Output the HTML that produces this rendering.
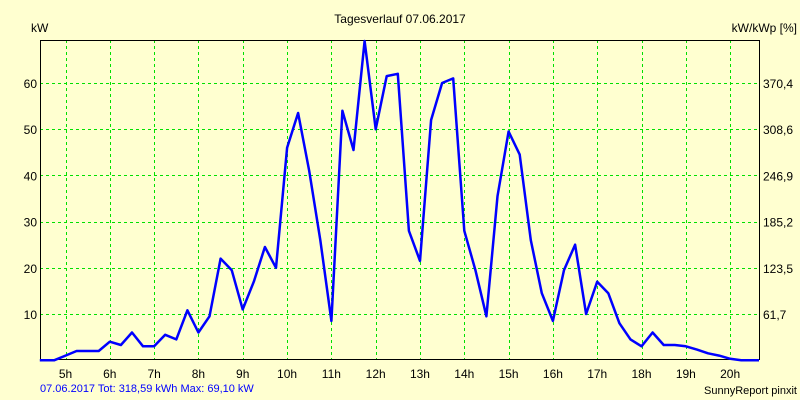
<!DOCTYPE html>
<html><head><meta charset="utf-8"><style>
body{margin:0;background:#ffffd0;}
svg{display:block;font-family:"Liberation Sans",sans-serif;font-size:12px;}
</style></head><body>
<svg id="chart" width="800" height="400" viewBox="0 0 800 400">
<rect x="0" y="0" width="800" height="400" fill="#ffffd0"/>
<text x="400" y="23" text-anchor="middle" fill="#000">Tagesverlauf 07.06.2017</text>
<text x="31" y="32" fill="#000">kW</text>
<text x="797" y="32" text-anchor="end" fill="#000">kW/kWp [%]</text>
<g id="grid"></g>
<g id="ticks"></g>
<rect x="40.5" y="40.5" width="719" height="319" fill="none" stroke="#000" stroke-width="1"/>
<polyline id="line" fill="none" stroke="#0000ff" stroke-width="2.5" stroke-linejoin="round"/>
<text x="40" y="392" fill="#0000ff" font-size="11">07.06.2017 Tot: 318,59 kWh Max: 69,10 kW</text>
<text x="797" y="394" text-anchor="end" fill="#000" font-size="11">SunnyReport pinxit</text>
</svg>
<script>
const hours = [5,6,7,8,9,10,11,12,13,14,15,16,17,18,19,20];
const yTicks = [10,20,30,40,50,60];
const rightLabels = ["61,7","123,5","185,2","246,9","308,6","370,4"];
const times = [4.42,4.75,5,5.25,5.75,6,6.25,6.5,6.75,7,7.25,7.5,7.75,8,8.25,8.5,8.75,9,9.25,9.5,9.75,10,10.25,10.5,10.75,11,11.25,11.5,11.75,12,12.25,12.5,12.75,13,13.25,13.5,13.75,14,14.25,14.5,14.75,15,15.25,15.5,15.75,16,16.25,16.5,16.75,17,17.25,17.5,17.75,18,18.25,18.5,18.75,19,19.25,19.5,19.75,20,20.25,20.65];
const power = [0,0,1,2,2,4,3.3,6,3,3,5.5,4.5,10.8,6,9.5,22,19.5,11,17,24.5,20,46,53.5,41,26,8.5,54,45.5,69.1,50,61.5,62,28,21.5,52,60,61,28,19.5,9.5,35.5,49.5,44.5,26,14.5,8.5,19.5,25,10,17,14.5,8,4.5,3,6,3.3,3.3,3,2.3,1.5,1,0.3,0,0];
const X = t => 65.5 + (t - 5) * 44.31;
const Y = v => 360.2 - v * 4.62;
const NS = "http://www.w3.org/2000/svg";
const grid = document.getElementById('grid'), ticks = document.getElementById('ticks');
hours.forEach(h => {
  const l = document.createElementNS(NS, 'line');
  
  
  const x = Math.round(X(h)) + 0.5;
  l.setAttribute('x1', x); l.setAttribute('x2', x); l.setAttribute('y1', 40); l.setAttribute('y2', 360);
  l.setAttribute('stroke', '#00e000'); l.setAttribute('stroke-dasharray', '3,3');
  grid.appendChild(l);
  const t = document.createElementNS(NS, 'text');
  
  
  t.setAttribute('x', X(h)); t.setAttribute('y', 378); t.setAttribute('text-anchor', 'middle');
  t.textContent = h + 'h';
  ticks.appendChild(t);
});
yTicks.forEach((v, i) => {
  const l = document.createElementNS(NS, 'line');
  
  
  const y = Math.round(Y(v)) + 0.5;
  l.setAttribute('x1', 40); l.setAttribute('x2', 760); l.setAttribute('y1', y); l.setAttribute('y2', y);
  l.setAttribute('stroke', '#00e000'); l.setAttribute('stroke-dasharray', '3,3');
  grid.appendChild(l);
  const t = document.createElementNS(NS, 'text');
  
  
  t.setAttribute('x', 37); t.setAttribute('y', Y(v) + 5); t.setAttribute('text-anchor', 'end');
  t.textContent = v;
  ticks.appendChild(t);
  const r = document.createElementNS(NS, 'text');
  
  
  r.setAttribute('x', 763); r.setAttribute('y', Y(v) + 5);
  r.textContent = rightLabels[i];
  ticks.appendChild(r);
});
document.getElementById('line').setAttribute('points', times.map((t, i) => X(t).toFixed(1) + ',' + Math.max(40, Y(power[i])).toFixed(1)).join(' '));
</script>
</body></html>
